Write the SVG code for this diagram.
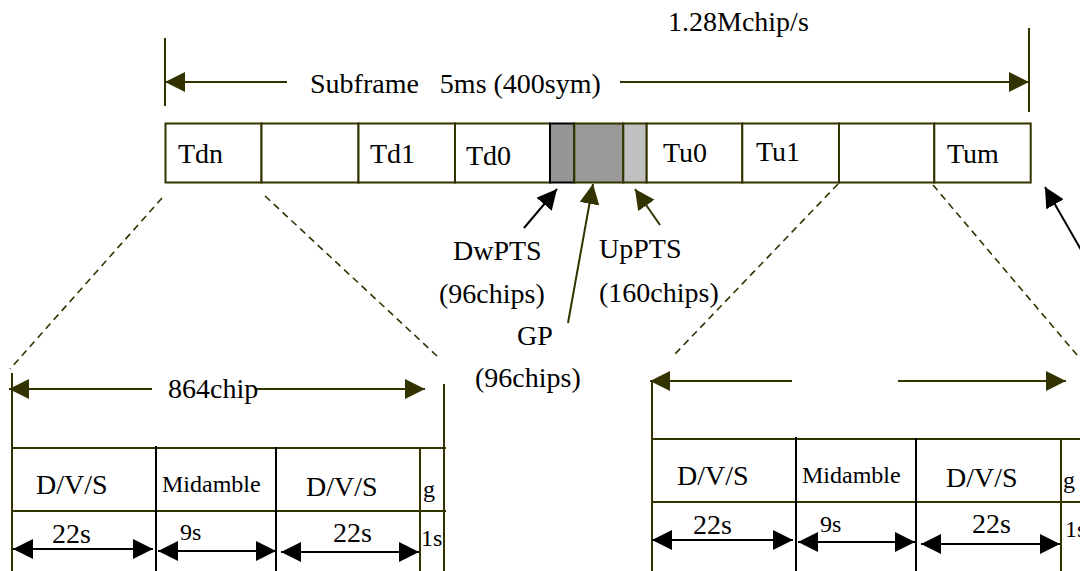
<svg xmlns="http://www.w3.org/2000/svg" width="1080" height="571" viewBox="0 0 1080 571">
<style>
.t{font-family:"Liberation Serif","Times New Roman",serif;font-size:28px;fill:#000}
.s{font-family:"Liberation Serif","Times New Roman",serif;font-size:24px;fill:#000}
.ol{stroke:#333300;stroke-width:2;fill:none}
.bk{stroke:#000;stroke-width:2;fill:none}
.cell{fill:#fff;stroke:#333300;stroke-width:2}
.dash{stroke:#333300;stroke-width:1.6;fill:none;stroke-dasharray:7 5}
</style>
<defs>
<marker id="ho" markerUnits="userSpaceOnUse" markerWidth="22" markerHeight="22" refX="20" refY="10" orient="auto-start-reverse"><path d="M0,0 L20,10 L0,20 z" fill="#333300"/></marker>
<marker id="hb" markerUnits="userSpaceOnUse" markerWidth="22" markerHeight="22" refX="20" refY="10" orient="auto-start-reverse"><path d="M0,0 L20,10 L0,20 z" fill="#000"/></marker>
</defs>
<rect width="1080" height="571" fill="#fff"/>

<g id="subframe-dimension">
<line class="ol" x1="165" y1="38" x2="165" y2="106"/>
<line class="ol" x1="1029" y1="28" x2="1029" y2="112"/>
<line class="ol" x1="287" y1="82" x2="165" y2="82" marker-end="url(#ho)"/>
<line class="ol" x1="620" y1="82" x2="1029" y2="82" marker-end="url(#ho)"/>
<text class="t" x="310" y="93" xml:space="preserve">Subframe   5ms (400sym)</text>
<text class="t" x="668" y="31">1.28Mchip/s</text>
</g>

<g id="frame">
<rect class="cell" x="165.5" y="123.5" width="96" height="59"/>
<rect class="cell" x="261.5" y="123.5" width="97" height="59"/>
<rect class="cell" x="358.5" y="123.5" width="96.5" height="59"/>
<rect class="cell" x="455" y="123.5" width="95" height="59"/>
<rect x="550" y="123.5" width="24.3" height="59" fill="#969696" stroke="#000" stroke-width="2"/>
<rect x="574.3" y="123.5" width="49" height="59" fill="#999999" stroke="#333300" stroke-width="2"/>
<rect x="623.3" y="123.5" width="23.4" height="59" fill="#c0c0c0" stroke="#333300" stroke-width="2"/>
<rect class="cell" x="646.7" y="123.5" width="95.6" height="59"/>
<rect class="cell" x="742.3" y="123.5" width="96.7" height="59"/>
<rect class="cell" x="839" y="123.5" width="95.3" height="59"/>
<rect class="cell" x="934.3" y="123.5" width="96.4" height="59"/>
<text class="t" x="178" y="163">Tdn</text>
<text class="t" x="370" y="163">Td1</text>
<text class="t" x="466" y="165">Td0</text>
<text class="t" x="663" y="162">Tu0</text>
<text class="t" x="756" y="161">Tu1</text>
<text class="t" x="947" y="163">Tum</text>
</g>

<g id="connectors">
<line class="bk" x1="524" y1="228" x2="557" y2="189" marker-end="url(#hb)"/>
<line class="ol" x1="568" y1="323" x2="593" y2="184" marker-end="url(#ho)"/>
<line class="ol" x1="660" y1="225" x2="635" y2="189" marker-end="url(#ho)"/>
<line class="bk" x1="1084" y1="255" x2="1045" y2="187" marker-end="url(#hb)"/>
<line class="dash" x1="162" y1="198" x2="10" y2="369"/>
<line class="dash" x1="265" y1="196" x2="437" y2="356"/>
<line class="dash" x1="838" y1="184" x2="675" y2="354"/>
<line class="dash" x1="933" y1="185" x2="1077" y2="355"/>
</g>

<g id="labels">
<text class="t" x="453" y="260">DwPTS</text>
<text class="t" x="439" y="303">(96chips)</text>
<text class="t" x="599" y="258">UpPTS</text>
<text class="t" x="599" y="302">(160chips)</text>
<text class="t" x="517" y="345">GP</text>
<text class="t" x="475" y="387">(96chips)</text>
</g>

<g id="slot-left">
<line class="ol" x1="12" y1="373" x2="12" y2="571"/>
<line class="ol" x1="444" y1="384" x2="444" y2="571"/>
<line class="ol" x1="152" y1="389" x2="9" y2="389" marker-end="url(#ho)"/>
<line class="ol" x1="256" y1="389" x2="425" y2="389" marker-end="url(#ho)"/>
<text class="t" x="168" y="398">864chip</text>
<line class="ol" x1="12" y1="448" x2="446" y2="448"/>
<line class="ol" x1="12" y1="511" x2="446" y2="511"/>
<line class="bk" x1="156" y1="446" x2="156" y2="571"/>
<line class="bk" x1="276" y1="447" x2="276" y2="571"/>
<line class="ol" x1="420" y1="447" x2="420" y2="571"/>
<text class="t" x="36" y="494">D/V/S</text>
<text class="s" x="162" y="492">Midamble</text>
<text class="t" x="306" y="496">D/V/S</text>
<text class="s" x="423" y="497">g</text>
<text class="t" x="52" y="543">22s</text>
<line class="bk" x1="13" y1="549" x2="153" y2="549" marker-start="url(#hb)" marker-end="url(#hb)"/>
<text class="s" x="180" y="540">9s</text>
<line class="bk" x1="158" y1="551" x2="276" y2="551" marker-start="url(#hb)" marker-end="url(#hb)"/>
<text class="t" x="333" y="542">22s</text>
<line class="bk" x1="281" y1="552" x2="419" y2="552" marker-start="url(#hb)" marker-end="url(#hb)"/>
<text class="s" x="421" y="546">1s</text>
</g>

<g id="slot-right">
<line class="ol" x1="652" y1="381" x2="652" y2="571"/>
<line class="ol" x1="792" y1="381" x2="650" y2="381" marker-end="url(#ho)"/>
<line class="ol" x1="898" y1="381" x2="1066" y2="381" marker-end="url(#ho)"/>
<line class="ol" x1="652" y1="439" x2="1080" y2="439"/>
<line class="ol" x1="652" y1="502" x2="1080" y2="502"/>
<line class="bk" x1="796" y1="437" x2="796" y2="571"/>
<line class="bk" x1="916" y1="438" x2="916" y2="571"/>
<line class="ol" x1="1061" y1="438" x2="1061" y2="571"/>
<text class="t" x="677" y="485">D/V/S</text>
<text class="s" x="802" y="483">Midamble</text>
<text class="t" x="946" y="487">D/V/S</text>
<text class="s" x="1063" y="488">g</text>
<text class="t" x="693" y="534">22s</text>
<line class="bk" x1="652" y1="540" x2="793" y2="540" marker-start="url(#hb)" marker-end="url(#hb)"/>
<text class="s" x="820" y="532">9s</text>
<line class="bk" x1="798" y1="542" x2="915" y2="542" marker-start="url(#hb)" marker-end="url(#hb)"/>
<text class="t" x="972" y="533">22s</text>
<line class="bk" x1="921" y1="544" x2="1060" y2="544" marker-start="url(#hb)" marker-end="url(#hb)"/>
<text class="s" x="1065" y="537">1s</text>
</g>
</svg>
